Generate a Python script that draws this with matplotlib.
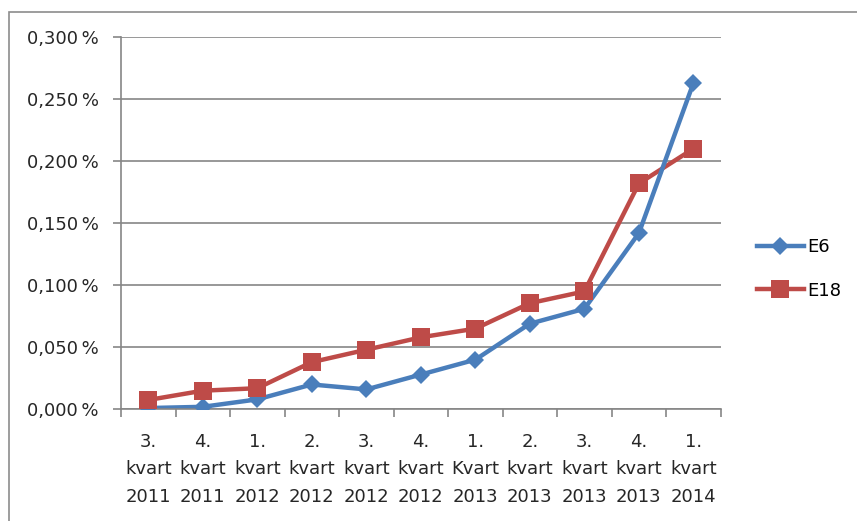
import matplotlib.pyplot as plt
from matplotlib.lines import Line2D
from matplotlib.patches import Rectangle
from matplotlib.ticker import FuncFormatter, FixedLocator

# ─── Data ────────────────────────────────────────────────────────────────────
quarters = ['3.\nkvart\n2011', '4.\nkvart\n2011', '1.\nkvart\n2012', '2.\nkvart\n2012',
            '3.\nkvart\n2012', '4.\nkvart\n2012', '1.\nKvart\n2013', '2.\nkvart\n2013',
            '3.\nkvart\n2013', '4.\nkvart\n2013', '1.\nkvart\n2014']
e6 = [0.001, 0.002, 0.008, 0.020, 0.016, 0.028, 0.040, 0.069, 0.081, 0.142, 0.263]
e18 = [0.0075, 0.015, 0.017, 0.038, 0.048, 0.058, 0.065, 0.0855, 0.095, 0.182, 0.210]
y_ticks = [0.0, 0.05, 0.10, 0.15, 0.20, 0.25, 0.30]

BLUE = '#4A7EBB'
RED = '#BE4B48'
GRID = '#868686'

plt.rcParams['font.family'] = ['DejaVu Sans']
FS = 13

# ─── Plot ────────────────────────────────────────────────────────────────────
fig = plt.figure(figsize=(8.57, 5.21), dpi=100)
ax = fig.add_axes([121 / 857, 1 - 409.3 / 521, 599.7 / 857, 372.3 / 521])

# outer chart frame (cropped on right / bottom)
fig.patches.append(Rectangle((9 / 857, -0.1), 1.2, 1 - 12 / 521 + 0.1,
                             transform=fig.transFigure, fill=False,
                             edgecolor='#8c8c8c', linewidth=1.2))

x = list(range(len(quarters)))

# lines first, then markers (blue line above red line, red markers on top)
ax.plot(x, e18, '-', color=RED, linewidth=3.2, zorder=2.0, solid_capstyle='round')
ax.plot(x, e6, '-', color=BLUE, linewidth=3.2, zorder=2.1, solid_capstyle='round')
ax.plot(x, e6, 'D', color=BLUE, markersize=9.5, markeredgewidth=0, zorder=3.0)
ax.plot(x, e18, 's', color=RED, markersize=13, markeredgewidth=0, zorder=3.1)

ax.set_xlim(-0.5, len(quarters) - 0.5)
ax.set_ylim(0, 0.30)

ax.set_yticks(y_ticks)
ax.yaxis.set_major_formatter(FuncFormatter(lambda v, p: f'{v:.3f}'.replace('.', ',') + '\u2009%'))
ax.yaxis.grid(True, color=GRID, linewidth=1.2)
ax.set_axisbelow(True)

# category boundaries get ticks, centres get labels
ax.xaxis.set_major_locator(FixedLocator([i - 0.5 for i in range(len(quarters) + 1)]))
ax.xaxis.set_major_formatter(FuncFormatter(lambda v, p: ''))
ax.xaxis.set_minor_locator(FixedLocator(x))
ax.set_xticklabels(quarters, minor=True, fontsize=FS, linespacing=1.68, color='#262626')
ax.tick_params(axis='x', which='minor', length=0, pad=17)
ax.tick_params(axis='x', which='major', length=6, width=1.2, color=GRID, direction='out')
ax.tick_params(axis='y', length=6, width=1.2, color=GRID, pad=10, labelsize=FS,
               labelcolor='#262626')

for side in ['top', 'right']:
    ax.spines[side].set_visible(False)
for side in ['left', 'bottom']:
    ax.spines[side].set_color(GRID)
    ax.spines[side].set_linewidth(1.2)

handles = [Line2D([], [], color=BLUE, linewidth=3.2, marker='D', markersize=9.5, markeredgewidth=0),
           Line2D([], [], color=RED, linewidth=3.2, marker='s', markersize=13, markeredgewidth=0)]
fig.legend(handles, ['E6', 'E18'], loc='center left', bbox_to_anchor=(757 / 857, 1 - 269 / 521),
           frameon=False, fontsize=FS, handlelength=2.6, handletextpad=0.2,
           labelspacing=1.4, borderpad=0, borderaxespad=0)

# ─── Save ────────────────────────────────────────────────────────────────────
fig.savefig('out.png', dpi=100)
plt.close()
